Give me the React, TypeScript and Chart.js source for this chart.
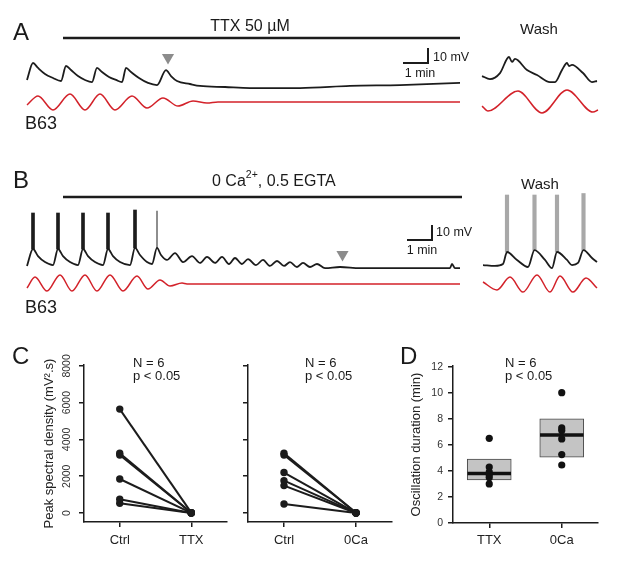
import React, { useEffect, useRef } from 'react';
import { Chart, registerables } from 'chart.js';

Chart.register(...registerables);

const FONT = "'Liberation Sans', Arial, Helvetica, sans-serif";
Chart.defaults.font.family = FONT;

type Pt = [number, number];

// ---------------- DATA ----------------
// Traces: time in min, membrane potential in mV (relative); red = filtered B63 signal
const A_BLACK: Pt[] = [
  [0, 6.7], [0.24, 18], [0.44, 14.7], [0.72, 10.7], [1.04, 8], [1.36, 6],
  [1.56, 16], [1.76, 13.3], [2.04, 9.3], [2.32, 6.7], [2.6, 5.3],
  [2.8, 14.7], [3.0, 12], [3.28, 8.7], [3.56, 6.7], [3.8, 5.3],
  [3.96, 14.7], [4.16, 12], [4.48, 8], [4.84, 4.7], [5.2, 3.3],
  [5.56, 13.3], [5.76, 9.3], [6.0, 6], [6.52, 4], [6.92, 2.7], [7.92, 2],
  [8.92, 1.3], [10.92, 1.3], [12.92, 2.7], [14.92, 3.3], [17.32, 4.7],
];
const A_RED: Pt[] = [
  [0, -10], [0.44, -4], [1.04, -13.3], [1.72, -2.7], [2.32, -13.3], [2.92, -2.7],
  [3.52, -13.3], [4.2, -4], [4.8, -12], [5.44, -5.3], [6.04, -10.7], [6.64, -7.3],
  [7.2, -8.7], [7.64, -8], [17.32, -8],
];
const A_WASH_BLACK: Pt[] = [
  [0, 9.3], [0.32, 7.3], [0.72, 11.3], [1.08, 22], [1.2, 18.7], [1.32, 20.7],
  [1.8, 13.3], [2.2, 10], [2.72, 5.3], [2.92, 5.3], [3.2, 13.3], [3.4, 18],
  [3.48, 16], [3.6, 16.7], [4.04, 11.3], [4.4, 5.3], [4.6, 6],
];
const A_WASH_RED: Pt[] = [
  [0, -10.7], [0.24, -14], [1.44, -0.7], [2.4, -15.3], [3.4, 0], [4.44, -14.7], [4.64, -13.3],
];
const A_DRUG: number[] = [1.44, 17.32]; // TTX application (min)
const A_ARROW: Pt = [5.64, 21.7];

const B_BLACK: Pt[] = [
  [0, 2.7], [0.24, 14], [0.44, 9.3], [0.72, 5.3], [1.04, 3.3],
  [1.24, 14], [1.44, 9.3], [1.72, 5.3], [2.04, 3.3],
  [2.24, 14], [2.44, 9.3], [2.72, 5.3], [3.04, 3.3],
  [3.24, 14], [3.44, 9.3], [3.72, 5.3], [4.12, 3.3],
  [4.32, 14.7], [4.52, 10], [4.8, 5.3], [5.0, 4],
  [5.2, 14.7], [5.36, 10], [5.6, 6.7], [5.92, 11.3], [6.24, 5.3], [6.6, 9.3],
  [6.92, 4.7], [7.2, 8.7], [7.52, 4.7], [7.8, 8.7], [8.08, 4], [8.32, 8],
  [8.6, 4], [8.84, 7.3], [9.16, 3.3], [9.44, 6.7], [9.72, 2.7], [10.0, 6],
  [10.28, 2.7], [10.52, 5.3], [10.8, 2], [11.04, 4.7], [11.32, 2], [11.6, 4],
  [11.92, 1.3], [12.52, 2], [13.32, 1.3], [14.92, 1.3], [16.52, 1.3],
  [16.92, 1.3], [17.0, 4], [17.12, 1.3], [17.32, 1.3],
];
// spikes: [time, base mV, top mV]
const B_SPIKES: number[][] = [[0.24, 14, 38], [1.24, 14, 38], [2.24, 14, 38], [3.24, 14, 38], [4.32, 14.7, 40]];
const B_SPIKE_LAST: number[][] = [[5.2, 14.7, 39.3]];
const B_RED: Pt[] = [
  [0, -12], [0.32, -4.7], [0.8, -14], [1.32, -3.3], [1.8, -14], [2.32, -3.3],
  [2.8, -14], [3.32, -3.3], [3.84, -14], [4.4, -4], [4.84, -12.7], [5.32, -6.7],
  [5.72, -10.7], [6.2, -8.7], [6.4, -9.3], [17.32, -9.3],
];
const B_WASH_BLACK: Pt[] = [
  [0, 3.3], [0.48, 2.7], [0.8, 4], [0.96, 12], [1.36, 6.7], [1.8, 2],
  [2.06, 13.3], [2.48, 6.7], [2.76, 1.3], [2.96, 12], [3.36, 6.7], [3.56, 3.3],
  [3.8, 4.7], [4.02, 13.3], [4.36, 8], [4.56, 5.3],
];
const B_WASH_SPIKES: number[][] = [[0.96, 12, 50], [2.06, 13, 50], [2.96, 12, 50], [4.02, 13, 51]];
const B_WASH_RED: Pt[] = [
  [0, -8], [0.56, -13.3], [1.08, -4.7], [1.6, -14.7], [2.16, -3.3], [2.68, -14.7],
  [3.08, -4], [3.6, -14.7], [4.12, -5.3], [4.56, -12],
];
const B_DRUG: number[] = [1.44, 17.4]; // 0 Ca2+ application (min)
const B_ARROW: Pt = [12.62, 10.3];

const SCALE_MIN = 1;  // scale bar, min
const SCALE_MV = 10;  // scale bar, mV

// Panel C: peak spectral density (mV².s)
const C_LABELS_TTX = ['Ctrl', 'TTX'];
const C_LABELS_CA = ['Ctrl', '0Ca'];
const C_TTX_CTRL = [5650, 3250, 3150, 1850, 750, 530];
const C_TTX_DRUG = [20, 10, 10, 5, 0, 0];
const C_CA_CTRL = [3250, 3150, 2200, 1760, 1490, 490];
const C_CA_DRUG = [10, 10, 5, 5, 0, 0];
const C_Y_TICKS = [0, 2000, 4000, 6000, 8000];

// Panel D: oscillation duration (min)
const D_GROUPS = ['TTX', '0Ca'];
const D_TTX = [6.5, 4.3, 3.9, 3.7, 3.5, 3.0];
const D_CA = [10.0, 7.3, 7.1, 6.45, 5.25, 4.45];
const D_BOX_TTX = [3.3, 3.8, 4.9]; // q1, median, q3
const D_BOX_CA = [5.05, 6.75, 8.0];
const D_Y_TICKS = [0, 2, 4, 6, 8, 10, 12];

// ---------------- STYLE / HELPERS ----------------
const BLACK = '#1c1c1c';
const RED = '#d3222a';
const GRAY = '#8c8c8c';

const toXY = (a: Pt[]) => a.map(([x, y]) => ({ x, y }));

function traceLine(data: Pt[], color: string, width = 1.5) {
  return {
    type: 'line', data: toXY(data), borderColor: color, borderWidth: width,
    pointRadius: 0, cubicInterpolationMode: 'monotone', fill: false, order: 1,
  };
}
function straight(data: Pt[], color: string, width: number) {
  return {
    type: 'line', data: toXY(data), borderColor: color, borderWidth: width,
    pointRadius: 0, tension: 0, fill: false, borderCapStyle: 'butt', borderJoinStyle: 'miter', order: 0,
  };
}
function spikes(data: number[][], color: string, thickness: number) {
  return {
    type: 'bar', data: data.map(([x, lo, hi]) => ({ x, y: [lo, hi] })),
    backgroundColor: color, borderWidth: 0, barThickness: thickness, grouped: false, order: 2,
  };
}
function marker(p: Pt) {
  return {
    type: 'line', data: toXY([p]), showLine: false, pointStyle: 'triangle', rotation: 180,
    pointRadius: 7, pointBackgroundColor: GRAY, pointBorderWidth: 0, order: 0,
  };
}
function scaleBar(cornerT: number, cornerV: number) {
  return straight(
    [[cornerT - SCALE_MIN, cornerV], [cornerT, cornerV], [cornerT, cornerV + SCALE_MV]],
    BLACK, 2,
  );
}

const common = {
  animation: false, responsive: false, maintainAspectRatio: false, devicePixelRatio: 1, events: [],
  plugins: { legend: { display: false }, tooltip: { enabled: false }, title: { display: false } },
};

function traceConfig(xr: number[], yr: number[], datasets: any[]) {
  return {
    type: 'line',
    data: { datasets },
    options: {
      ...common,
      layout: { padding: 0, autoPadding: false },
      scales: {
        x: { type: 'linear', min: xr[0], max: xr[1], display: false, offset: false },
        y: { type: 'linear', min: yr[0], max: yr[1], display: false },
      },
    },
  };
}

const axisGrid = {
  display: true, drawOnChartArea: false, drawTicks: true, tickLength: 5,
  color: BLACK, lineWidth: 1.5, offset: false,
};
const axisBorder = { display: true, color: BLACK, width: 1.5 };

function pairedConfig(labels: string[], ctrl: number[], treat: number[], showY: boolean, yWidth: number, padRight: number) {
  return {
    type: 'line',
    data: {
      labels,
      datasets: ctrl.map((c, i) => ({
        data: [c, treat[i]], borderColor: BLACK, borderWidth: 2, pointRadius: 3.7,
        pointBackgroundColor: BLACK, pointBorderWidth: 0, tension: 0,
      })),
    },
    options: {
      ...common,
      layout: { padding: { top: 25, right: padRight, bottom: 0, left: 0 }, autoPadding: false },
      scales: {
        x: {
          type: 'category', offset: true,
          afterFit: (s: any) => { s.height = 43; },
          grid: axisGrid, border: axisBorder,
          ticks: { color: '#222', font: { size: 13 }, padding: 6, maxRotation: 0, autoSkip: false },
        },
        y: {
          type: 'linear', min: -490, max: 8050,
          afterBuildTicks: (s: any) => { s.ticks = C_Y_TICKS.map((v) => ({ value: v })); },
          afterFit: (s: any) => { s.width = yWidth; },
          grid: axisGrid, border: axisBorder,
          ticks: {
            display: showY, callback: (v: any) => String(v), minRotation: 90, maxRotation: 90,
            crossAlign: 'center', padding: 0, color: '#333', font: { size: 10.5 },
          },
          title: {
            display: showY, text: 'Peak spectral density (mV².s)', color: '#222',
            font: { size: 13 }, padding: { top: 12, bottom: 0 },
          },
        },
      },
    },
  };
}

function boxConfig() {
  const half = 0.3;
  const boxes = [D_BOX_TTX, D_BOX_CA];
  return {
    type: 'line',
    data: {
      datasets: [
        {
          type: 'bar', data: boxes.map((b, i) => ({ x: i + 1, y: [b[0], b[2]] })),
          backgroundColor: '#c4c4c4', borderColor: '#4a4a4a', borderWidth: 1, borderSkipped: false,
          barThickness: 44, grouped: false, order: 3,
        },
        ...boxes.map((b, i) => ({
          type: 'line', data: [{ x: i + 1 - half, y: b[1] }, { x: i + 1 + half, y: b[1] }],
          borderColor: '#111', borderWidth: 3.5, pointRadius: 0, tension: 0, borderCapStyle: 'butt', order: 2,
        })),
        ...[D_TTX, D_CA].map((vals, i) => ({
          type: 'line', showLine: false, data: vals.map((y) => ({ x: i + 1, y })),
          pointRadius: 3.6, pointBackgroundColor: '#111', pointBorderWidth: 0, order: 1,
        })),
      ],
    },
    options: {
      ...common,
      layout: { padding: { top: 26, right: 19, bottom: 0, left: 0 }, autoPadding: false },
      scales: {
        x: {
          type: 'linear', min: 0.5, max: 2.5, offset: false,
          afterBuildTicks: (s: any) => { s.ticks = D_GROUPS.map((_, i) => ({ value: i + 1 })); },
          afterFit: (s: any) => { s.height = 42; },
          grid: axisGrid, border: axisBorder,
          ticks: { callback: (_v: any, i: number) => D_GROUPS[i], color: '#222', font: { size: 13 }, padding: 5, maxRotation: 0 },
        },
        y: {
          type: 'linear', min: 0, max: 12.05,
          afterBuildTicks: (s: any) => { s.ticks = D_Y_TICKS.map((v) => ({ value: v })); },
          afterFit: (s: any) => { s.width = 58; },
          grid: axisGrid, border: axisBorder,
          ticks: { callback: (v: any) => String(v), padding: 5, color: '#333', font: { size: 10.5 } },
          title: {
            display: true, text: 'Oscillation duration (min)', color: '#222',
            font: { size: 13 }, padding: { top: 14, bottom: 0 },
          },
        },
      },
    },
  };
}

function ChartCanvas({ left, top, width, height, make }: any) {
  const ref = useRef<HTMLCanvasElement>(null);
  useEffect(() => {
    const chart = new Chart(ref.current as HTMLCanvasElement, make());
    return () => chart.destroy();
  }, []);
  return (
    <canvas ref={ref} width={width} height={height}
      style={{ position: 'absolute', left, top, width, height }} />
  );
}

function Txt({ x, cap, size, center, children }: any) {
  return (
    <div style={{
      position: 'absolute', left: x, top: cap - 0.13 * size, fontSize: size, lineHeight: `${size}px`,
      fontFamily: FONT, color: '#1a1a1a', whiteSpace: 'nowrap',
      transform: center ? 'translateX(-50%)' : undefined,
    }}>{children}</div>
  );
}

const MAIN_X = [-1.08, 17.72];
const WASH_A_X = [-0.48, 5.4];
const WASH_B_X = [-0.52, 5.36];
const A_Y = [-33.33, 60];
const B_Y = [-33.33, 86.67];

export default function App() {
  return (
    <div style={{ position: 'absolute', left: 0, top: 0, width: 617, height: 565, background: '#fff', overflow: 'hidden' }}>
      <ChartCanvas left={0} top={0} width={470} height={140} make={() => traceConfig(MAIN_X, A_Y, [
        straight([[A_DRUG[0], 34.67], [A_DRUG[1], 34.67]], BLACK, 2.5),
        marker(A_ARROW),
        scaleBar(16.04, 18),
        traceLine(A_BLACK, BLACK, 1.8),
        traceLine(A_RED, RED, 1.5),
      ])} />
      <ChartCanvas left={470} top={0} width={147} height={140} make={() => traceConfig(WASH_A_X, A_Y, [
        traceLine(A_WASH_BLACK, BLACK, 1.8),
        traceLine(A_WASH_RED, RED, 1.5),
      ])} />
      <ChartCanvas left={0} top={140} width={470} height={180} make={() => traceConfig(MAIN_X, B_Y, [
        straight([[B_DRUG[0], 48.67], [B_DRUG[1], 48.67]], BLACK, 2.5),
        marker(B_ARROW),
        scaleBar(16.2, 20),
        spikes(B_SPIKES, BLACK, 3),
        spikes(B_SPIKE_LAST, '#777', 1),
        traceLine(B_BLACK, BLACK, 1.8),
        traceLine(B_RED, RED, 1.5),
      ])} />
      <ChartCanvas left={470} top={140} width={147} height={180} make={() => traceConfig(WASH_B_X, B_Y, [
        spikes(B_WASH_SPIKES, '#a8a8a8', 3.5),
        traceLine(B_WASH_BLACK, BLACK, 1.8),
        traceLine(B_WASH_RED, RED, 1.5),
      ])} />
      <ChartCanvas left={30} top={340} width={200} height={225}
        make={() => pairedConfig(C_LABELS_TTX, C_TTX_CTRL, C_TTX_DRUG, true, 54, 3)} />
      <ChartCanvas left={228} top={340} width={168} height={225}
        make={() => pairedConfig(C_LABELS_CA, C_CA_CTRL, C_CA_DRUG, false, 20, 4)} />
      <ChartCanvas left={395} top={340} width={222} height={225} make={boxConfig} />

      <Txt x={13} cap={23} size={24}>A</Txt>
      <Txt x={250} cap={20} size={16} center>TTX 50 µM</Txt>
      <Txt x={539} cap={23} size={15} center>Wash</Txt>
      <Txt x={433} cap={53} size={12.5}>10 mV</Txt>
      <Txt x={420} cap={69} size={12.5} center>1 min</Txt>
      <Txt x={25} cap={116} size={18}>B63</Txt>

      <Txt x={13} cap={171} size={24}>B</Txt>
      <Txt x={212} cap={175} size={16}>
        0 Ca<span style={{ fontSize: 10.5, position: 'relative', top: -8, lineHeight: 0 }}>2+</span>, 0.5 EGTA
      </Txt>
      <Txt x={540} cap={178} size={15} center>Wash</Txt>
      <Txt x={436} cap={228} size={12.5}>10 mV</Txt>
      <Txt x={422} cap={246} size={12.5} center>1 min</Txt>
      <Txt x={25} cap={300} size={18}>B63</Txt>

      <Txt x={12} cap={347} size={24}>C</Txt>
      <Txt x={133} cap={358} size={13}>N = 6</Txt>
      <Txt x={133} cap={371} size={13}>p &lt; 0.05</Txt>
      <Txt x={305} cap={358} size={13}>N = 6</Txt>
      <Txt x={305} cap={371} size={13}>p &lt; 0.05</Txt>

      <Txt x={400} cap={347} size={24}>D</Txt>
      <Txt x={505} cap={358} size={13}>N = 6</Txt>
      <Txt x={505} cap={371} size={13}>p &lt; 0.05</Txt>
    </div>
  );
}
